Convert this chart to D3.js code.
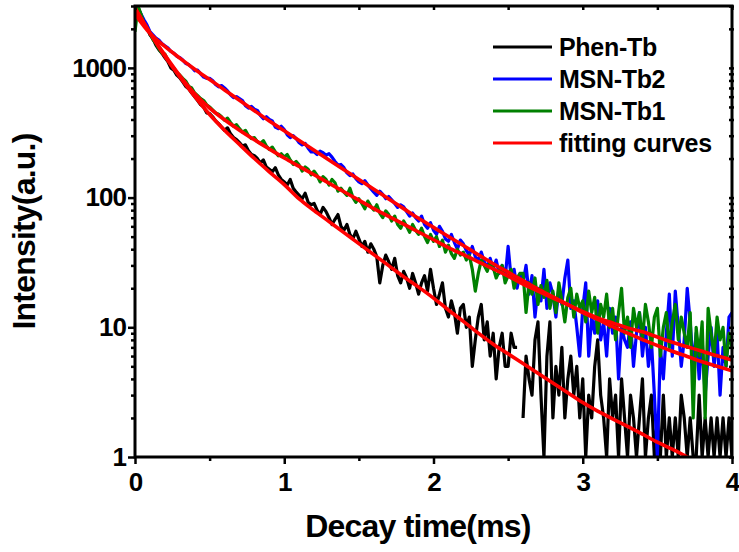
<!DOCTYPE html>
<html><head><meta charset="utf-8">
<script src="https://cdn.jsdelivr.net/npm/d3@7"></script>
<style>
body{margin:0;background:#fff}
svg text{font-family:"Liberation Sans",Arial,Helvetica,sans-serif;font-weight:bold;fill:#000}
</style>
</head><body>
<svg id="chart" width="739" height="552"></svg>
<script>
// sampling steps (ms)
const timeStep = 0.02;
const fitStep = 0.1;

// measured decay data (counts), one value per timeStep from 0 to 4 ms
const phenTb = [
2400,2950,2550,2250,2050, 1800,1680,1500,1380,1300, 1200,1120,1000,960,880, 840,780,720,690,640,
600,560,520,500,450, 445,420,390,372,350, 330,345,310,290,280, 265,250,255,230,215,
210,200,185,195,172, 165,158,170,150,138, 132,125,138,118,110, 104,98,108,92,88,
90,80,74,84,78, 70,62,68,74,60, 56,62,52,48,55, 48,42,46,38,44,
40,35,22,30,36, 32,28,34,25,22, 27,24,20,26,22, 18,22,25,19,28,
20,15,18,22,14, 12,16,13,9,14, 15,10,12,5,8, 12,15,8,11,6,
9,4,7,9,5, 5,9,7,7,0, 2,6,4,3,8, 11,3,1,6,11,
2,5,3,7,2, 4,6,3,5,2, 4,1,3,2,5, 8,3,2,1,4,
2,3,1,4,2, 1,3,2,1,2, 4,1,2,3,1, 2,1,3,1,2,
1,2,1,3,2, 1,2,1,1,3, 1,2,1,2,1, 2,1,2,1,2,
1];
const msnTb2 = [
2300,2850,2600,2350,2150, 1900,1800,1700,1640,1540, 1480,1430,1340,1300,1230, 1200,1150,1080,1060,1010,
950,960,900,850,830, 830,800,745,715,730, 700,665,620,590,600, 580,560,510,490,505,
480,470,430,405,420, 400,390,350,340,355, 335,305,290,300,285, 265,255,262,240,225,
225,215,228,222,212, 218,205,190,178,180, 170,155,148,152,140, 132,128,135,125,117,
110,104,112,106,98, 102,96,90,84,88, 85,78,72,76,70, 66,72,62,58,64,
56,52,60,55,48, 46,52,45,40,47, 44,39,36,42,35, 33,38,32,29,34,
28,33,26,30,24, 42,24,28,20,26, 22,30,18,25,12, 20,16,28,14,22,
18,12,20,15,24, 33,14,16,10,6, 14,22,6,12,9, 16,8,11,6,14,
9,12,4,10,8, 7,11,5,9,13, 6,10,5,8,3, 1,7,4,9,18,
6,19,10,5,8, 20,11,5,9,4, 8,3,6,10,5, 9,3,7,5,12,
13];
const msnTb1 = [
1900,3000,2600,2200,2050, 1850,1650,1550,1400,1300, 1280,1150,1060,1000,920, 880,830,790,720,700,
640,610,580,560,520, 500,475,450,440,420, 395,410,380,355,365, 340,320,330,300,285,
290,270,262,275,250, 235,245,225,210,218, 205,215,195,180,190, 178,160,172,165,150,
160,148,132,145,138, 125,138,130,112,118, 110,104,118,100,92, 98,90,82,94,86,
80,88,76,70,79, 74,66,72,62,58, 66,60,54,62,56, 52,58,50,45,52,
46,50,42,47,38, 43,37,34,40,36, 38,33,36,28,19, 26,33,30,27,32,
29,24,27,30,22, 25,28,20,24,26, 26,13,22,18,24, 15,21,17,23,14,
19,13,22,16,11, 17,20,12,18,14, 16,11,19,13,17, 9,15,12,18,10,
14,8,13,20,9, 12,7,14,10,13, 8,15,11,7,12, 14,6,10,13,7,
11,15,8,12,9, 7,13,2,10,6, 11,2,14,9,6, 12,8,10,5,9,
7];

// fitting curves, one value per fitStep from 0 to 4 ms
const fitPhenTb = [2884,1862,1230,851,603,437,331,257,200,158,126,97.7,79.4,65.3,53.7,44.2,36.3,29.9,24.5,20.4,
16.8,13.6,11.1,9.02,7.41,6.24,5.25,4.42,3.72,3.13,2.63,2.26,1.97,1.72,1.50,1.30,1.15,1.0,0.87,0.76,0.66];
const fitMsnTb2 = [2600,1849,1462,1189,977,813,676,562,468,389,327,275,232,195,164,138,116,97.7,82.2,69.2,
58.9,50.1,42.7,36.3,30.9,26.6,22.9,19.7,17.2,15.0,13.0,11.5,10.1,9.02,8.04,7.24,6.53,5.96,5.43,5.01,4.62];
const fitMsnTb1 = [2884,1862,1259,871,631,490,398,331,279,237,202,174,150,129,111,95.5,82.2,71.6,62.4,54.3,
47.3,41.2,36.3,32.0,28.2,24.8,21.5,19.0,16.8,14.9,13.2,11.8,10.8,9.9,9.23,8.41,7.67,7.08,6.53,6.03,5.60];

const xTicks = [0,1,2,3,4];
const xMinorTicks = [0.5,1.5,2.5,3.5];
const yTicks = [1,10,100,1000];
const yMinorTicks = [2,3,4,5,6,7,8,9,20,30,40,50,60,70,80,90,200,300,400,500,600,700,800,900,2000,3000];
const legendLabels = ["Phen-Tb","MSN-Tb2","MSN-Tb1","fitting curves"];
const seriesColors = ["#000000","#0000ff","#008000","#ff0000"];
const xTitle = "Decay time(ms)";
const yTitle = "Intensity(a.u.)";

const svg = d3.select("#chart");
const x = d3.scaleLinear().domain([0,4]).range([135,732]);
const y = d3.scaleLog().domain([1,3000]).range([457,6]);

const toPts = (arr, step) => arr.map((v,i)=>({t:i*step, v}));

svg.append("defs").append("clipPath").attr("id","plotclip")
  .append("rect").attr("x",x(0)).attr("y",y(3000)).attr("width",x(4)-x(0)).attr("height",y(1)-y(3000));

const plot = svg.append("g").attr("clip-path","url(#plotclip)");
const line = d3.line().defined(d=>d.v>0).x(d=>x(d.t)).y(d=>y(d.v));
const fitLine = d3.line().x(d=>x(d.t)).y(d=>y(d.v)).curve(d3.curveMonotoneX);

[[phenTb,0],[msnTb2,1],[msnTb1,2]].forEach(([arr,ci])=>{
  plot.append("path").datum(toPts(arr,timeStep)).attr("d",line)
    .attr("fill","none").attr("stroke",seriesColors[ci]).attr("stroke-width",3.2)
    .attr("stroke-linejoin","round");
});
[fitPhenTb,fitMsnTb1,fitMsnTb2].forEach(arr=>{
  plot.append("path").datum(toPts(arr,fitStep)).attr("d",fitLine)
    .attr("fill","none").attr("stroke",seriesColors[3]).attr("stroke-width",3.6)
    .attr("stroke-linejoin","round");
});

// axes
function styleAxis(g){
  g.select(".domain").remove();
  g.selectAll(".tick line").attr("stroke","#000").attr("stroke-width",2.5);
  g.selectAll(".tick text").style("font-size","26px").style("letter-spacing","-1px");
}
svg.append("g").attr("transform",`translate(0,${y(1)})`)
  .call(d3.axisBottom(x).tickValues(xTicks).tickSize(7).tickPadding(9).tickFormat(d3.format("d")))
  .call(styleAxis);
svg.append("g").attr("transform",`translate(0,${y(1)})`)
  .call(d3.axisBottom(x).tickValues(xMinorTicks).tickSize(4).tickFormat(""))
  .call(styleAxis);
svg.append("g").attr("transform",`translate(${x(0)},0)`)
  .call(d3.axisLeft(y).tickValues(yTicks).tickSize(7).tickPadding(2).tickFormat(d=>String(d)))
  .call(styleAxis);
svg.append("g").attr("transform",`translate(${x(0)},0)`)
  .call(d3.axisLeft(y).tickValues(yMinorTicks).tickSize(4).tickFormat(""))
  .call(styleAxis);
// mirrored ticks on top and right
svg.append("g").attr("transform",`translate(0,${y(3000)})`)
  .call(d3.axisBottom(x).tickValues(xTicks.concat(xMinorTicks)).tickSize(4).tickFormat(""))
  .call(styleAxis);
svg.append("g").attr("transform",`translate(${x(4)+2},0)`)
  .call(d3.axisLeft(y).tickValues(yTicks.concat(yMinorTicks)).tickSize(5).tickFormat(""))
  .call(styleAxis);

// frame
svg.append("rect").attr("x",x(0)).attr("y",y(3000)).attr("width",x(4)-x(0)).attr("height",y(1)-y(3000))
  .attr("fill","none").attr("stroke","#000").attr("stroke-width",3);

// titles
svg.append("text").attr("x",418).attr("y",537).attr("text-anchor","middle")
  .style("font-size","32px").style("letter-spacing","-0.8px").text(xTitle);
svg.append("text").attr("transform",`translate(35,${(y(1)+y(3000))/2}) rotate(-90)`).attr("text-anchor","middle")
  .style("font-size","32px").style("letter-spacing","-0.8px").text(yTitle);

// legend
const leg = svg.append("g");
legendLabels.forEach((lab,i)=>{
  const yy = 47 + i*32;
  leg.append("line").attr("x1",493).attr("x2",552).attr("y1",yy).attr("y2",yy)
    .attr("stroke",seriesColors[i]).attr("stroke-width",3);
  leg.append("text").attr("x",559).attr("y",yy+8.5).style("font-size","25px").style("letter-spacing","-0.3px").text(lab);
});
</script>
</body></html>
